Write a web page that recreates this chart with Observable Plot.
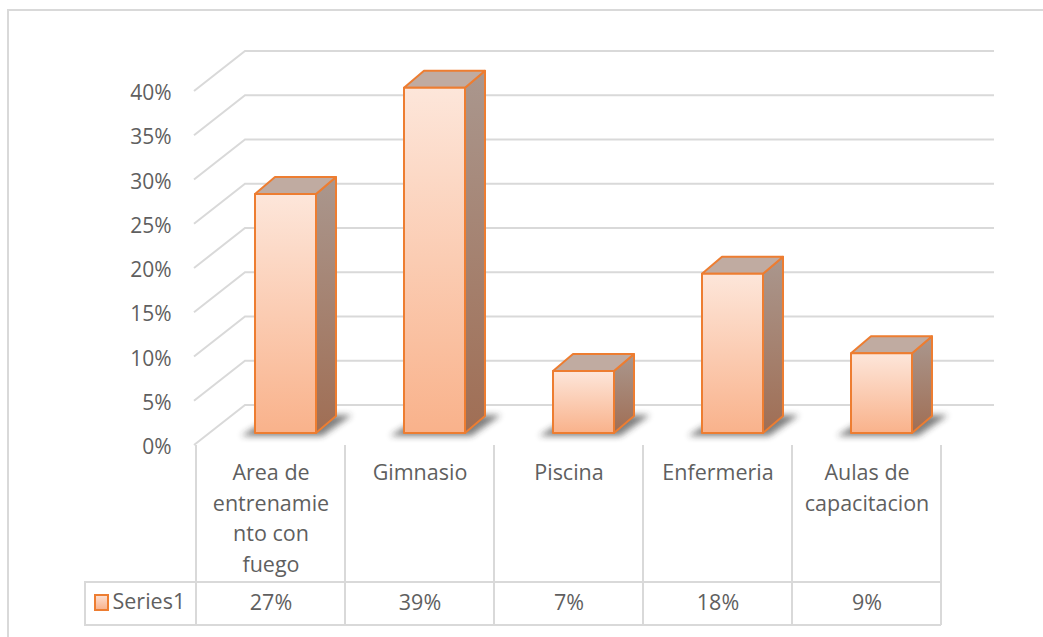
<!DOCTYPE html>
<html><head><meta charset="utf-8">
<script src="https://cdn.jsdelivr.net/npm/d3@7"></script>
<script src="https://cdn.jsdelivr.net/npm/@observablehq/plot@0.6"></script>
<style>html,body{margin:0;padding:0;background:#fff} svg{display:block}</style>
</head><body><div id="chart"></div>
<script>
const categories = ["Area de entrenamiento con fuego", "Gimnasio", "Piscina", "Enfermeria", "Aulas de capacitacion"];
const categoryLabels = ["Area de\nentrenamie\nnto con\nfuego", "Gimnasio", "Piscina", "Enfermeria", "Aulas de\ncapacitacion"];
const values = [27, 39, 7, 18, 9];
const valueLabels = ["27%", "39%", "7%", "18%", "9%"];
const yTicks = [0, 5, 10, 15, 20, 25, 30, 35, 40];
const seriesName = "Series1";

const data = categories.map((c, i) => ({cat: c, label: categoryLabels[i], value: values[i], vlabel: valueLabels[i]}));

const GRID = "#d9d9d9", TEXT = "#5f5f5f", EDGE = "#ed7d31";
const DX = 20, DY = -17;          // bar depth offset
const FONT = "Open Sans";

function bw(x, scales) { return typeof x.bandwidth === "function" ? x.bandwidth() : scales.scales.x.bandwidth; }
function stepOf(x, scales) { return typeof x.step === "function" ? x.step() : scales.scales.x.step; }

function defs() {
  const g = d3.create("svg:g");
  const d = g.append("defs");
  const f = d.append("linearGradient").attr("id", "gFront").attr("x1", 0).attr("y1", 0).attr("x2", 0).attr("y2", 1);
  f.append("stop").attr("offset", 0).attr("stop-color", "#fde6da");
  f.append("stop").attr("offset", 1).attr("stop-color", "#f9b28b");
  const s = d.append("linearGradient").attr("id", "gSide").attr("x1", 0).attr("y1", 0).attr("x2", 0).attr("y2", 1);
  s.append("stop").attr("offset", 0).attr("stop-color", "#aa978e");
  s.append("stop").attr("offset", 1).attr("stop-color", "#a06e54");
  const k = d.append("linearGradient").attr("id", "gKey").attr("x1", 0).attr("y1", 0).attr("x2", 0).attr("y2", 1);
  k.append("stop").attr("offset", 0).attr("stop-color", "#fde0d2");
  k.append("stop").attr("offset", 1).attr("stop-color", "#f8b08a");
  d.append("filter").attr("id", "shadowBlur").attr("x", "-50%").attr("y", "-50%").attr("width", "200%").attr("height", "200%")
    .append("feGaussianBlur").attr("stdDeviation", 3);
  return g.node();
}

function frame(index, scales, values, dims) {
  const g = d3.create("svg:g").attr("fill", "none").attr("stroke", GRID).attr("stroke-width", 2);
  g.append("path").attr("d", `M8,${dims.height}V10H${dims.width}`);
  return g.node();
}

function grid(index, scales) {
  const {y} = scales;
  const g = d3.create("svg:g").attr("fill", "none").attr("stroke", GRID).attr("stroke-width", 2);
  for (const t of yTicks) {
    const yf = y(t) + 12, yb = y(t) - 28;
    g.append("path").attr("d", `M194,${yf}L245,${yb}H994`);
  }
  return g.node();
}

function bars3d(index, scales) {
  const {x, y} = scales;
  const w = bw(x, scales);
  const g = d3.create("svg:g");
  for (const d of data) {
    const x0 = x(d.cat), x1 = x0 + w, yb = y(0);
    g.append("path")
      .attr("d", `M${x0 - 14},${yb + 3}L${x1 + 6},${yb + 3}L${x1 + DX + 16},${yb + DY - 1}L${x0 + DX},${yb + DY - 1}Z`)
      .attr("fill", "#2a2a2a").attr("opacity", 0.6).attr("filter", "url(#shadowBlur)");
  }
  for (const d of data) {
    const x0 = x(d.cat), x1 = x0 + w, yb = y(0), yt = y(d.value);
    g.append("path")
      .attr("d", `M${x1},${yb}L${x1 + DX},${yb + DY}L${x1 + DX},${yt + DY}L${x1},${yt}Z`)
      .attr("fill", "url(#gSide)").attr("stroke", EDGE).attr("stroke-width", 2).attr("stroke-linejoin", "round");
    g.append("path")
      .attr("d", `M${x0},${yt}L${x1},${yt}L${x1 + DX},${yt + DY}L${x0 + DX},${yt + DY}Z`)
      .attr("fill", "#c0aba1").attr("stroke", EDGE).attr("stroke-width", 2).attr("stroke-linejoin", "round");
  }
  return g.node();
}

function table(index, scales) {
  const {x} = scales;
  const w = bw(x, scales), st = stepOf(x, scales);
  const gap = (st - w) / 2;
  const bounds = categories.map(c => x(c) - gap - 15);
  bounds.push(x(categories[categories.length - 1]) + w + gap - 15);
  const right = bounds[bounds.length - 1];
  const g = d3.create("svg:g");
  const p = g.append("g").attr("fill", "none").attr("stroke", GRID).attr("stroke-width", 2);
  for (const b of bounds) p.append("path").attr("d", `M${b},445V625`);
  p.append("path").attr("d", `M${right},582H85V625H${right}`);
  g.append("rect").attr("x", 95).attr("y", 595).attr("width", 13).attr("height", 15)
    .attr("fill", "url(#gKey)").attr("stroke", EDGE).attr("stroke-width", 2);
  return g.node();
}

const chart = Plot.plot({
  width: 1043,
  height: 637,
  margin: 0,
  style: {fontFamily: FONT, background: "#fff", overflow: "visible"},
  x: {type: "band", domain: categories, range: [210, 957.5], paddingInner: 0.59, paddingOuter: 0.295, align: 0.5, axis: null},
  y: {type: "linear", domain: [0, 40], range: [433, 79], axis: null},
  marks: [
    defs,
    frame,
    grid,
    bars3d,
    Plot.barY(data, {x: "cat", y: "value", fill: "url(#gFront)", stroke: EDGE, strokeWidth: 2, strokeLinejoin: "round"}),
    table,
    Plot.text(yTicks, {y: d => d, text: d => d + "%", frameAnchor: "left", dx: 171, dy: 14, textAnchor: "end", fontSize: 21, fill: TEXT, fontFamily: FONT}),
    Plot.text(data, {x: "cat", text: "label", frameAnchor: "top", lineAnchor: "top", dx: -15, dy: 458, lineHeight: 1.42, fontSize: 21.5, fill: TEXT, fontFamily: FONT}),
    Plot.text(data, {x: "cat", text: "vlabel", frameAnchor: "top", lineAnchor: "middle", dx: -15, dy: 603, fontSize: 21.5, fill: TEXT, fontFamily: FONT}),
    Plot.text([seriesName], {text: d => d, frameAnchor: "top-left", lineAnchor: "middle", textAnchor: "start", dx: 112, dy: 602, fontSize: 21.5, fill: TEXT, fontFamily: FONT})
  ]
});
document.getElementById("chart").appendChild(chart);
</script>
</body></html>
